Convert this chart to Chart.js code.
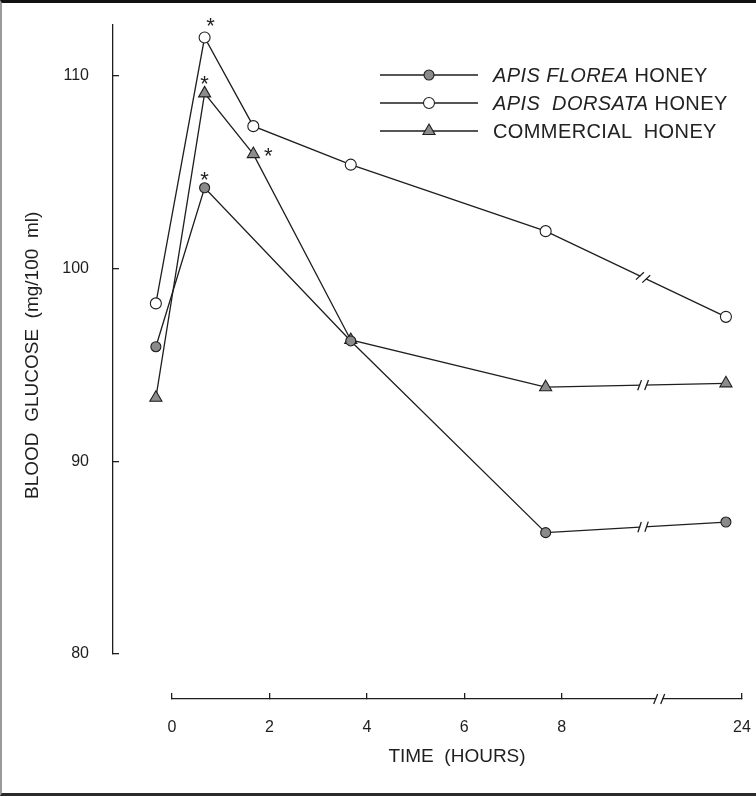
<!DOCTYPE html>
<html>
<head>
<meta charset="utf-8">
<title>Blood glucose after honey</title>
<script src="https://cdn.jsdelivr.net/npm/chart.js@4.4.1/dist/chart.umd.min.js"></script>
<style>
  html, body { margin: 0; padding: 0; background: #fff; }
  #wrap { position: relative; width: 756px; height: 796px; overflow: hidden; }
  #chart { position: absolute; left: 0; top: 0; }
  #frame {
    position: absolute; left: 0; top: 0; right: 0; bottom: 0; pointer-events: none;
    border-top: 3px solid #111; border-left: 2px solid #9a9a9a; border-bottom: 3px solid #2a2a2a;
  }
  #legend {
    position: absolute; left: 380px; top: 61px;
    font-family: "Liberation Sans", Arial, sans-serif; font-size: 20px; letter-spacing: 0.4px; color: #222;
  }
  .row { display: flex; align-items: center; height: 28px; white-space: pre; }
  .row canvas { margin-right: 15px; }
  .row i { font-style: italic; }
</style>
</head>
<body>
<div id="wrap">
  <canvas id="chart" width="756" height="796"></canvas>
  <div id="legend"></div>
  <div id="frame"></div>
</div>
<script>
// ============================================
//  DATA  (blood glucose, mg/100 ml)
// ============================================
const hours = [0, 1, 2, 4, 8, 24];
const floreaHours = [0, 1, 4, 8, 24];          // no 2 h reading for A. florea
const florea = [95.95, 104.2, 96.25, 86.3, 86.85];
const dorsata = [98.2, 112.0, 107.4, 105.4, 101.95, 97.5];
const commercial = [93.3, 109.1, 105.95, 96.3, 93.85, 94.05];

const yTicks = [80, 90, 100, 110];
const xTicks = [0, 2, 4, 6, 8, 24];

// the time axis is broken between 8 h and 24 h
const BREAK_AT = 10;
const POS_24 = 11.7;
const toPos = h => (h <= 8 ? h : POS_24);

// significance marks: [dataset, point index, dx, dy]
const stars = [[1, 1, 6, -11], [2, 1, 0, -8], [0, 1, 0, -7], [2, 2, 15, 3]];

const INK = '#1e1e1e';
Chart.defaults.font.family = '"Liberation Sans", Arial, sans-serif';
Chart.defaults.color = INK;

const series = [
  { italic: 'APIS FLOREA', rest: ' HONEY', hours: floreaHours, values: florea,
    pointStyle: 'circle', radius: 5, fill: '#8a8a8a' },
  { italic: 'APIS  DORSATA', rest: ' HONEY', hours: hours, values: dorsata,
    pointStyle: 'circle', radius: 5.5, fill: '#ffffff' },
  { italic: '', rest: 'COMMERCIAL  HONEY', hours: hours, values: commercial,
    pointStyle: 'triangle', radius: 7, fill: '#8c8c8c' }
];

// ============================================
//  HELPERS
// ============================================
function drawBreak(ctx, x, y, angle) {
  ctx.save();
  ctx.translate(x, y);
  ctx.rotate(angle);
  ctx.fillStyle = '#fff';
  ctx.fillRect(-3, -3, 6, 6);
  ctx.strokeStyle = INK;
  ctx.lineWidth = 1.3;
  ctx.beginPath();
  [-3.5, 3.5].forEach(dx => { ctx.moveTo(dx - 2, 5); ctx.lineTo(dx + 2, -5); });
  ctx.stroke();
  ctx.restore();
}

function drawMarker(ctx, s, x, y) {
  ctx.beginPath();
  if (s.pointStyle === 'triangle') {
    const r = s.radius;
    ctx.moveTo(x, y - r);
    ctx.lineTo(x + r * 0.866, y + r * 0.5);
    ctx.lineTo(x - r * 0.866, y + r * 0.5);
    ctx.closePath();
  } else {
    ctx.arc(x, y, s.radius, 0, Math.PI * 2);
  }
  ctx.fillStyle = s.fill;
  ctx.fill();
  ctx.strokeStyle = INK;
  ctx.lineWidth = 1.1;
  ctx.stroke();
}

// breaks on the lines and on the axis, plus the asterisks
const annotate = {
  id: 'annotate',
  afterDatasetsDraw(chart) {
    const ctx = chart.ctx;
    const xs = chart.scales.x;
    chart.data.datasets.forEach((ds, di) => {
      const pts = chart.getDatasetMeta(di).data;
      const a = pts[pts.length - 2], b = pts[pts.length - 1];
      const bx = xs.getPixelForValue(BREAK_AT);
      const t = (bx - a.x) / (b.x - a.x);
      drawBreak(ctx, bx, a.y + t * (b.y - a.y), Math.atan2(b.y - a.y, b.x - a.x));
    });
    const xa = chart.scales.xAxis;
    drawBreak(ctx, xa.getPixelForValue(BREAK_AT), xa.top, 0);

    ctx.save();
    ctx.font = '22px "Liberation Sans", Arial, sans-serif';
    ctx.fillStyle = INK;
    ctx.textAlign = 'center';
    ctx.textBaseline = 'middle';
    stars.forEach(([di, i, dx, dy]) => {
      const p = chart.getDatasetMeta(di).data[i];
      ctx.fillText('*', p.x + dx, p.y + dy);
    });
    ctx.restore();
  }
};

// ============================================
//  CHART
// ============================================
const axisGrid = { drawOnChartArea: false, tickLength: -6, color: INK, tickColor: INK, lineWidth: 1.3 };
const X_BAND = 70;   // height of the time-axis band below the plot
const Y_BAND = 113;  // width of the glucose-axis band left of the plot

new Chart(document.getElementById('chart'), {
  type: 'line',
  data: {
    datasets: series.map(s => ({
      label: (s.italic + s.rest).trim(),
      data: s.hours.map((h, i) => ({ x: toPos(h), y: s.values[i] })),
      borderColor: INK,
      borderWidth: 1.3,
      tension: 0,
      pointStyle: s.pointStyle,
      pointRadius: s.radius,
      pointBackgroundColor: s.fill,
      pointBorderColor: INK,
      pointBorderWidth: 1.1,
      xAxisID: 'x',
      yAxisID: 'y'
    }))
  },
  options: {
    responsive: false,
    animation: false,
    events: [],
    layout: { padding: { left: 0, right: 14, top: 25, bottom: 27 } },
    plugins: { legend: { display: false }, tooltip: { enabled: false } },
    scales: {
      // data scale (the points sit a little left of the drawn time axis)
      x: { type: 'linear', display: false, min: -0.88, max: 12.03 },
      xGap: {
        type: 'linear', display: false, position: 'bottom', stack: 'bottom', stackWeight: 59,
        afterFit: s => { s.height = X_BAND; }
      },
      xAxis: {
        type: 'linear', position: 'bottom', stack: 'bottom', stackWeight: 570, weight: 1,
        min: 0, max: POS_24,
        afterBuildTicks: s => { s.ticks = xTicks.map(h => ({ value: toPos(h) })); },
        afterFit: s => { s.height = X_BAND; s.paddingLeft = 0; s.paddingRight = 0; },
        grid: axisGrid,
        border: { color: INK, width: 1.3 },
        ticks: { padding: 25, autoSkip: false, maxRotation: 0, font: { size: 16 },
                 callback: (v, i) => xTicks[i] },
        title: { display: true, text: 'TIME  (HOURS)', font: { size: 19 }, padding: { top: 0, bottom: 1 } }
      },
      y: {
        type: 'linear', position: 'left', stack: 'left', stackWeight: 629, weight: 1,
        min: 80, max: 112.65,
        afterBuildTicks: s => { s.ticks = yTicks.map(v => ({ value: v })); },
        afterFit: s => { s.width = Y_BAND; s.paddingTop = 0; s.paddingBottom = 0; },
        grid: axisGrid,
        border: { color: INK, width: 1.3 },
        ticks: { padding: 30, font: { size: 16 } },
        // trailing spaces push the centred title a little lower, as in the original
        title: { display: true, text: 'BLOOD  GLUCOSE  (mg/100  ml)' + '\u00a0'.repeat(6),
                 font: { size: 19 }, padding: { top: 21 } }
      },
      yGap: {
        type: 'linear', display: false, position: 'left', stack: 'left', stackWeight: 45,
        afterFit: s => { s.width = Y_BAND; }
      }
    }
  },
  plugins: [annotate]
});

// ============================================
//  LEGEND (html, for the mixed italic labels)
// ============================================
const legend = document.getElementById('legend');
series.forEach(s => {
  const row = document.createElement('div');
  row.className = 'row';
  const c = document.createElement('canvas');
  c.width = 98; c.height = 22;
  const g = c.getContext('2d');
  g.strokeStyle = INK; g.lineWidth = 1.3;
  g.beginPath(); g.moveTo(0, 11); g.lineTo(98, 11); g.stroke();
  drawMarker(g, s, 49, 11);
  row.appendChild(c);
  if (s.italic) {
    const it = document.createElement('i');
    it.textContent = s.italic;
    row.appendChild(it);
  }
  row.appendChild(document.createTextNode(s.rest));
  legend.appendChild(row);
});
</script>
</body>
</html>
